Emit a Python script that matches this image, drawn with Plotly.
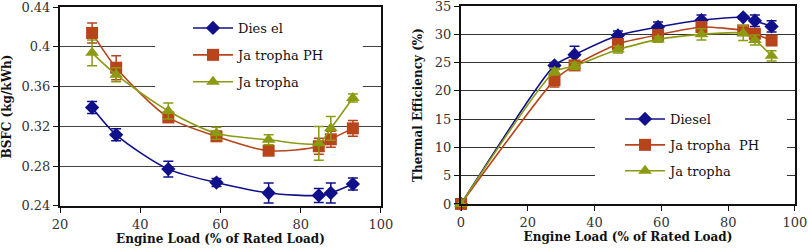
import plotly.graph_objects as go

# ---- Data: BSFC (left chart) ----
load_bsfc = [28, 34, 47, 59, 72, 84.5, 87.5, 93]
bsfc_diesel = [0.339, 0.3115, 0.277, 0.2635, 0.253, 0.2505, 0.253, 0.262]
bsfc_diesel_err = [0.006, 0.006, 0.008, 0.004, 0.010, 0.007, 0.010, 0.006]
bsfc_ph = [0.414, 0.379, 0.329, 0.310, 0.2955, 0.300, 0.307, 0.318]
bsfc_ph_err = [0.010, 0.012, 0.003, 0.004, 0.003, 0.008, 0.008, 0.008]
bsfc_jat = [0.394, 0.372, 0.3355, 0.313, 0.3065, 0.303, 0.318, 0.3485]
bsfc_jat_err = [0.013, 0.007, 0.008, 0.006, 0.005, 0.017, 0.012, 0.004]

# ---- Data: Thermal efficiency (right chart) ----
load_te = [0, 28, 34, 47, 59, 72, 84.5, 88, 93]
te_diesel = [0, 24.5, 26.4, 29.8, 31.3, 32.5, 33.0, 32.4, 31.4]
te_diesel_err = [0, 0.5, 1.5, 0.8, 0.9, 0.9, 0.3, 1.0, 1.0]
te_ph = [0, 21.9, 24.5, 28.3, 29.9, 31.3, 30.7, 30.1, 28.9]
te_ph_err = [0, 1.2, 0.6, 0.7, 0.5, 0.8, 0.6, 0.9, 0.6]
te_jat = [0, 23.4, 24.4, 27.3, 29.1, 30.0, 30.2, 29.0, 26.2]
te_jat_err = [0, 0.6, 0.6, 0.6, 0.5, 1.0, 1.3, 0.9, 0.9]

left_names = ["Dies el", "Ja tropha PH", "Ja tropha"]
right_names = ["Diesel", "Ja tropha\u00a0\u00a0PH", "Ja tropha"]

colors = ["#10108a", "#b8441a", "#8c9a12"]
symbols = ["diamond", "square", "triangle-up"]
msizes = [11, 12, 12]

FONT = "DejaVu Serif"
W, H = 808, 252

fig = go.Figure()

left_series = [(bsfc_diesel, bsfc_diesel_err), (bsfc_ph, bsfc_ph_err), (bsfc_jat, bsfc_jat_err)]
for i, (vals, errs) in enumerate(left_series):
    fig.add_trace(go.Scatter(
        x=load_bsfc, y=vals, name=left_names[i], mode="lines+markers",
        line=dict(color=colors[i], width=1.6, shape="spline", smoothing=0.8),
        marker=dict(symbol=symbols[i], size=msizes[i], color=colors[i]),
        error_y=dict(type="data", array=errs, color=colors[i], thickness=1.5, width=5),
        xaxis="x", yaxis="y", legend="legend", legendgroup="l%d" % i,
        cliponaxis=False,
    ))

right_series = [(te_diesel, te_diesel_err), (te_ph, te_ph_err), (te_jat, te_jat_err)]
for i, (vals, errs) in enumerate(right_series):
    fig.add_trace(go.Scatter(
        x=load_te, y=vals, name=right_names[i], mode="lines+markers",
        line=dict(color=colors[i], width=1.6, shape="spline", smoothing=0.6),
        marker=dict(symbol=symbols[i], size=msizes[i], color=colors[i]),
        error_y=dict(type="data", array=errs, color=colors[i], thickness=1.5, width=5),
        xaxis="x2", yaxis="y2", legend="legend2", legendgroup="r%d" % i,
        cliponaxis=False,
    ))

tickfont = dict(family=FONT, size=13, color="#333")
titlefont = dict(family=FONT, size=12, color="#111", weight="bold")
axis_common = dict(
    showline=True, linecolor="#111", linewidth=2, mirror=True,
    ticks="outside", ticklen=5, tickcolor="#111", tickwidth=1,
    tickfont=tickfont, zeroline=False, automargin=False,
    ticklabeloverflow="allow",
)

def px_x(p):
    return p / W

def px_y(p):
    return 1 - p / H

legend_font = dict(family=FONT, size=13, color="#111")

fig.update_layout(
    width=W, height=H,
    margin=dict(l=0, r=0, t=0, b=0, autoexpand=False),
    paper_bgcolor="white", plot_bgcolor="white",
    font=dict(family=FONT, color="#111"),
    xaxis=dict(domain=[px_x(60), px_x(381)], anchor="y", range=[20, 100.01], dtick=20,
               showgrid=False,
               title=dict(text="Engine Load (% of Rated Load)", font=titlefont, standoff=4),
               **axis_common),
    yaxis=dict(domain=[px_y(206), px_y(7)], anchor="x", range=[0.2399, 0.4401], dtick=0.04,
               tickformat="~g", showgrid=True, gridcolor="#444", gridwidth=1,
               title=dict(text="BSFC (kg/kWh)", font=titlefont, standoff=8),
               **axis_common),
    xaxis2=dict(domain=[px_x(461), px_x(795)], anchor="y2", range=[0, 100.01], dtick=20,
                showgrid=False,
                title=dict(text="Engine Load (% of Rated Load)", font=titlefont, standoff=4),
                **axis_common),
    yaxis2=dict(domain=[px_y(204), px_y(6)], anchor="x2", range=[-0.01, 35.01], dtick=5,
                showgrid=True, gridcolor="#333", gridwidth=1,
                title=dict(text="Thermal Efficiency (%)", font=titlefont, standoff=10),
                **axis_common),
    legend=dict(x=px_x(188), y=px_y(13), xanchor="left", yanchor="top",
                bgcolor="rgba(0,0,0,0)", borderwidth=0, itemwidth=40,
                font=legend_font, tracegroupgap=7),
    legend2=dict(x=px_x(620), y=px_y(104), xanchor="left", yanchor="top",
                 bgcolor="rgba(0,0,0,0)", borderwidth=0, itemwidth=40,
                 font=legend_font, tracegroupgap=6),
    showlegend=True,
    shapes=[
        # white panels behind the legends, hiding gridlines there
        dict(type="rect", xref="x", yref="y", layer="between",
             x0=43.7, x1=95.5, y0=0.352, y1=0.437,
             fillcolor="white", line=dict(width=0)),
        dict(type="rect", xref="x2", yref="y2", layer="between",
             x0=40.1, x1=97.6, y0=3.4, y1=18.4,
             fillcolor="white", line=dict(width=0)),
    ],
)

fig.write_html("out.html")
